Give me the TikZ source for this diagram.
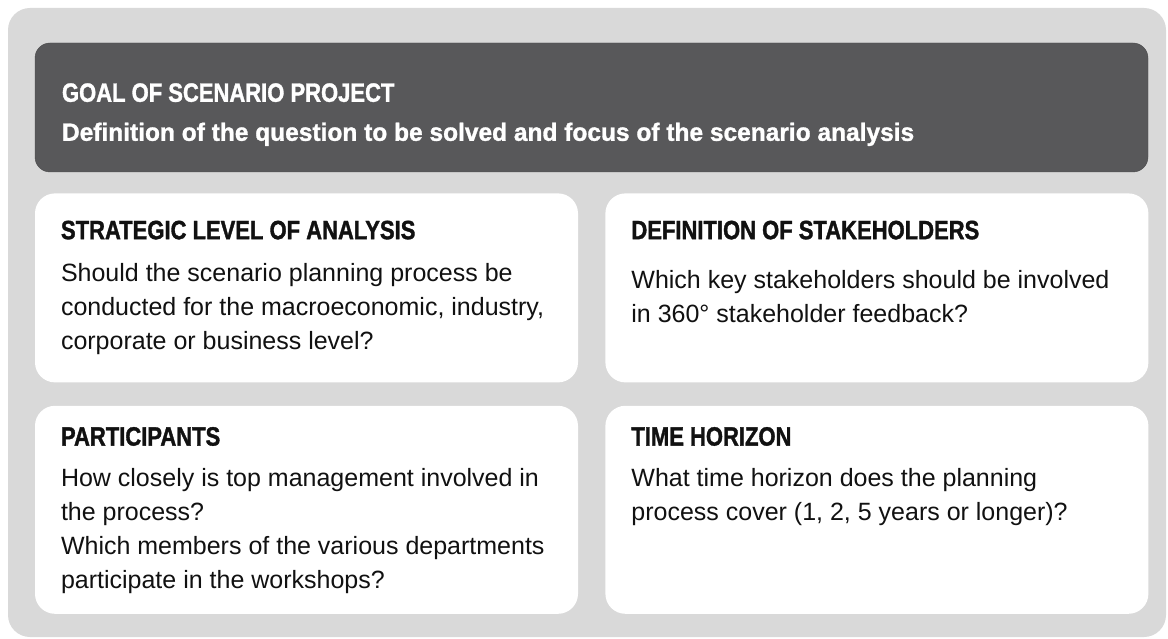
\documentclass[tikz,border=0pt]{standalone}
\usepackage{fontspec}
\setmainfont{Liberation Sans}
\newfontfamily\headfamily{Liberation Sans}[FakeStretch=0.83, FakeBold=1.3]
\newfontfamily\questfamily{Liberation Sans}[FakeStretch=0.98, FakeBold=1.2]
\definecolor{panelgray}{HTML}{D9D9D9}
\definecolor{goalgray}{HTML}{58585A}
\definecolor{textblack}{HTML}{111111}
\usetikzlibrary{positioning}

\begin{document}
\begin{tikzpicture}[
    x=1pt, y=1pt,
    panel/.style={fill=panelgray, rounded corners=22pt},
    goalbox/.style={rectangle, fill=goalgray, draw=goalgray!85!black,
                    rounded corners=15pt, minimum width=1113pt,
                    minimum height=129pt, inner sep=0pt},
    card/.style={rectangle, fill=white, rounded corners=20pt,
                 minimum width=543pt, minimum height=189pt, inner sep=0pt},
    head/.style={anchor=base west, inner sep=0pt, text=textblack,
                 font=\headfamily\bfseries\fontsize{26.5}{30}\selectfont},
    % base of a multi-line body is the baseline of its last line
    body/.style={anchor=base west, inner sep=0pt, align=left, text=textblack,
                 font=\fontsize{25}{34}\selectfont}
  ]
  \useasboundingbox (0,0) rectangle (1168,-639);
  \fill[panel] (8,-8) rectangle (1166,-637);

  \node[goalbox] (goal) at (591.5,-107.5) {};
  \node[head, text=white] (goaltitle) at ([shift={(27,-59)}]goal.north west)
    {GOAL OF SCENARIO PROJECT};
  \node[head, text=white, font=\questfamily\bfseries\fontsize{25}{30}\selectfont]
    (goalquestion) at ([shift={(27,-98)}]goal.north west)
    {Definition of the question to be solved and focus of the scenario analysis};

  % four cards below the goal
  \node[card, below=21pt of goal.south west, anchor=north west] (level) {};
  \node[card, right=27pt of level] (stake) {};
  \node[card, minimum height=208pt, below=23pt of level.south west,
        anchor=north west] (partic) {};
  \node[card, minimum height=208pt, right=27pt of partic] (horizon) {};

  \node[head] (levelhead) at ([shift={(26,-46)}]level.north west)
    {STRATEGIC LEVEL OF ANALYSIS};
  \node[body] (leveltext) at ([shift={(26,-156)}]level.north west)
    {Should the scenario planning process be\\
     conducted for the macroeconomic, industry,\\
     corporate or business level?};

  \node[head] (stakehead) at ([shift={(26,-46)}]stake.north west)
    {DEFINITION OF STAKEHOLDERS};
  \node[body] (staketext) at ([shift={(26,-129)}]stake.north west)
    {Which key stakeholders should be involved\\
     in 360° stakeholder feedback?};

  \node[head] (partichead) at ([shift={(26,-40)}]partic.north west)
    {PARTICIPANTS};
  \node[body] (partictext) at ([shift={(26,-183)}]partic.north west)
    {How closely is top management involved in\\
     the process?\\
     Which members of the various departments\\
     participate in the workshops?};

  \node[head] (horizonhead) at ([shift={(26,-40)}]horizon.north west)
    {TIME HORIZON};
  \node[body] (horizontext) at ([shift={(26,-115)}]horizon.north west)
    {What time horizon does the planning\\
     process cover (1, 2, 5 years or longer)?};
\end{tikzpicture}
\end{document}
